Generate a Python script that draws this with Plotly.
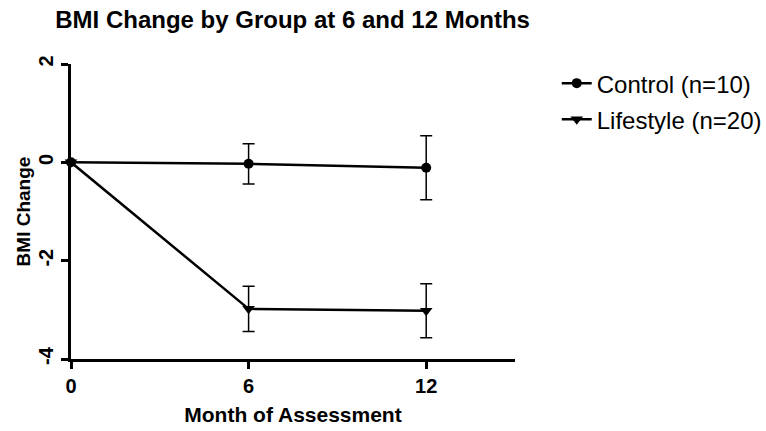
import plotly.graph_objects as go

months = [0, 6, 12]
control_mean = [0.0, -0.03, -0.11]
control_err = [0.0, 0.41, 0.65]
lifestyle_mean = [0.0, -2.98, -3.02]
lifestyle_err = [0.0, 0.46, 0.55]
x_ticks = [0, 6, 12]
y_ticks = [-4, -2, 0, 2]

FONT = "Liberation Sans, Arial, sans-serif"

fig = go.Figure()
fig.add_trace(go.Scatter(
    x=months, y=control_mean, name="Control (n=10)", mode="lines+markers",
    legendgroup="c",
    line=dict(color="black", width=2.5),
    marker=dict(symbol="circle", size=10, color="black"),
    error_y=dict(type="data", array=control_err, visible=True, color="black", thickness=1.5, width=6),
    cliponaxis=False,
))
fig.add_trace(go.Scatter(
    x=months, y=lifestyle_mean, name="Lifestyle (n=20)", mode="lines+markers",
    legendgroup="l",
    line=dict(color="black", width=2.5),
    marker=dict(symbol="triangle-down", size=11, color="black"),
    error_y=dict(type="data", array=lifestyle_err, visible=True, color="black", thickness=1.5, width=6),
    cliponaxis=False,
))

fig.update_layout(
    width=766, height=431,
    paper_bgcolor="white", plot_bgcolor="white",
    margin=dict(l=71, r=251, t=64, b=72, autoexpand=False),
    font=dict(family=FONT, color="black"),
    title=dict(text="<b>BMI Change by Group at 6 and 12 Months</b>", x=0.382, xanchor="center",
               y=0.955, yanchor="middle", font=dict(size=24, family=FONT)),
    showlegend=True,
    legend=dict(x=1.094, y=1.01, xanchor="left", yanchor="top", font=dict(size=24, family=FONT),
                tracegroupgap=2, traceorder="grouped", itemwidth=30, bgcolor="rgba(0,0,0,0)"),
    xaxis=dict(range=[0, 15], tickvals=x_ticks, ticktext=[str(v) for v in x_ticks], automargin=False,
               showline=True, linecolor="black", linewidth=2.5, showgrid=False, zeroline=False,
               ticks="outside", ticklen=7, tickwidth=2.5, tickcolor="black",
               tickfont=dict(size=20, family=FONT, weight="bold"),
               title=dict(text="<b>Month of Assessment</b>", font=dict(size=21, family=FONT), standoff=12)),
    yaxis=dict(range=[-4, 2], tickvals=y_ticks, ticktext=[str(v) for v in y_ticks], automargin=False,
               showline=True, linecolor="black", linewidth=2.5, showgrid=False, zeroline=False,
               ticks="outside", ticklen=7, tickwidth=2.5, tickcolor="black", tickangle=-90,
               tickfont=dict(size=20, family=FONT, weight="bold"),
               title=dict(text="<b>BMI Change</b>", font=dict(size=19, family=FONT), standoff=0)),
)

fig.write_html("out.html", config={"displayModeBar": False},
               post_script="document.body.style.margin='0';")
